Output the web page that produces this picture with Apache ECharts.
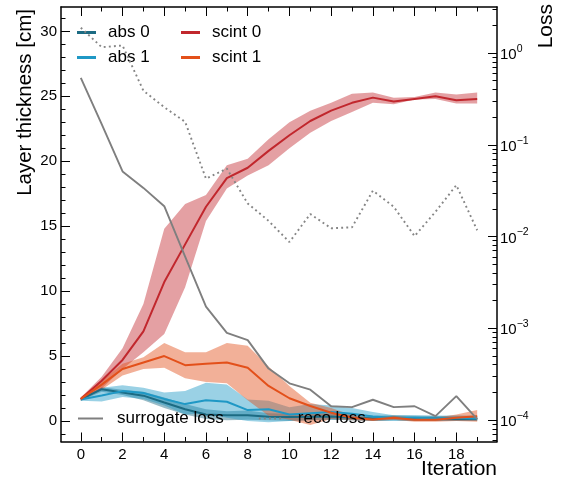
<!DOCTYPE html>
<html>
<head>
<meta charset="utf-8">
<script src="https://cdn.jsdelivr.net/npm/echarts@6/dist/echarts.min.js"></script>
<style>
html,body{margin:0;padding:0;background:#fff;}
#c{width:567px;height:489px;}
</style>
</head>
<body>
<div id="c"></div>
<script>
// ---- data ----
const iterations = [0,1,2,3,4,5,6,7,8,9,10,11,12,13,14,15,16,17,18,19];

const abs0   = [1.66,2.45,2.2,1.95,1.42,0.9,0.5,0.45,0.45,0.33,0.3,0.32,0.35,0.25,0.2,0.25,0.2,0.2,0.15,0.15];
const abs0Lo = [1.55,2.25,2.0,1.6,1.0,0.5,0.15,0.05,0.1,0.05,0.0,0.05,0.1,0.05,0.0,0.05,0.0,0.0,0.0,0.0];
const abs0Hi = [1.75,2.6,2.4,2.25,1.8,1.3,0.9,0.75,0.8,0.6,0.55,0.55,0.55,0.45,0.4,0.45,0.4,0.4,0.35,0.35];

const abs1   = [1.66,1.97,2.3,2.15,1.7,1.3,1.6,1.48,0.84,0.9,0.5,0.6,0.7,0.55,0.35,0.25,0.25,0.2,0.25,0.2];
const abs1Lo = [1.55,1.5,1.85,1.7,1.2,0.5,0.6,0.25,0.0,-0.1,0.0,0.05,0.1,0.05,0.0,0.0,0.0,0.0,0.0,0.0];
const abs1Hi = [1.75,2.55,2.75,2.55,2.2,2.3,2.95,2.8,1.66,1.55,1.05,1.3,1.2,1.0,0.7,0.45,0.45,0.4,0.45,0.4];

const scint0   = [1.7,3.1,4.7,6.9,10.7,13.6,16.5,18.7,19.5,20.8,22.0,23.1,23.9,24.5,24.9,24.6,24.8,25.0,24.7,24.8];
const scint0Lo = [1.6,2.5,4.0,5.3,6.7,10.3,15.4,17.9,18.9,19.7,21.0,22.2,23.1,23.8,24.5,24.4,24.75,24.8,24.45,24.45];
const scint0Hi = [1.8,3.4,5.6,9.0,14.8,16.7,17.4,19.7,20.2,21.7,23.0,23.9,24.5,25.2,25.3,24.9,24.95,25.3,25.15,25.3];

const scint1   = [1.7,2.8,4.0,4.5,5.0,4.3,4.4,4.5,4.1,2.7,1.75,1.15,0.63,0.25,0.12,0.25,0.1,0.1,0.25,0.37];
const scint1Lo = [1.55,2.4,3.5,4.0,4.1,3.3,3.0,2.9,1.6,0.4,0.1,-0.3,0.15,0.05,0.0,0.1,-0.05,-0.05,0.0,-0.05];
const scint1Hi = [1.85,3.1,4.4,4.9,6.0,5.3,5.3,6.0,5.8,4.2,2.7,1.4,1.0,0.45,0.25,0.4,0.25,0.25,0.5,0.85];

const surrogateLoss = [0.537,0.168,0.0513,0.0339,0.0214,0.00603,0.00172,0.000891,0.000741,0.000363,0.000251,0.000214,0.000141,0.000138,0.000166,0.000138,0.000141,0.00011,0.000182,0.000102];
const recoLoss = [1.89,1.16,1.21,0.389,0.257,0.178,0.0427,0.055,0.0229,0.0148,0.0087,0.0176,0.0123,0.0126,0.0316,0.0211,0.0101,0.0186,0.0363,0.0117];

const xMajorTicks = [0,2,4,6,8,10,12,14,16,18];
const xMinorTicks = [1,3,5,7,9,11,13,15,17,19];
const yMajorTicks = [0,5,10,15,20,25,30];
const yMinorTicks = [-1,1,2,3,4,6,7,8,9,11,12,13,14,16,17,18,19,21,22,23,24,26,27,28,29,31];
const lossMajorTicks = [1e-4,1e-3,1e-2,1e-1,1];
const lossMinorTicks = [6e-5,7e-5,8e-5,9e-5,2e-4,3e-4,4e-4,5e-4,6e-4,7e-4,8e-4,9e-4,2e-3,3e-3,4e-3,5e-3,6e-3,7e-3,8e-3,9e-3,2e-2,3e-2,4e-2,5e-2,6e-2,7e-2,8e-2,9e-2,0.2,0.3,0.4,0.5,0.6,0.7,0.8,0.9,2,3];

// ---- styling ----
const FONT = 'Liberation Sans, Arial, Helvetica, sans-serif';
const C_ABS0 = '#1c6b83', C_ABS1 = '#1f98c5', C_SC0 = '#c1272d', C_SC1 = '#e3501a';
const A_ABS0 = 'rgba(28,107,131,0.45)', A_ABS1 = 'rgba(31,152,197,0.45)';
const A_SC0 = 'rgba(193,39,45,0.44)', A_SC1 = 'rgba(227,80,26,0.45)';

function pairs(ys){ return iterations.map((x,i)=>[x, ys[i]]); }
function band(lo, hi, color){
  return {type:'custom', data:pairs(lo), encode:{x:0, y:1}, silent:true, clip:true, animation:false,
    renderItem:function(params, api){
      if (params.dataIndex !== 0) return null;
      const pts = [];
      for (let i = 0; i < iterations.length; i++) pts.push(api.coord([iterations[i], hi[i]]));
      for (let i = iterations.length - 1; i >= 0; i--) pts.push(api.coord([iterations[i], lo[i]]));
      return {type:'polygon', shape:{points:pts}, style:{fill:color, stroke:null}};
    }};
}
function line(name, ys, color){
  return {name:name, type:'line', data:pairs(ys), symbol:'none', itemStyle:{color:color},
          lineStyle:{color:color, width:2}, animation:false};
}

const lineBlack = {show:true, onZero:false, lineStyle:{color:'#000', width:1.5}};
const noLine = {show:false, onZero:false};
function xAxisDef(pos, ticks, len, labels, showLine){
  return {type:'value', position:pos, min:-0.95, max:19.95, gridIndex:0,
    axisLine: showLine ? lineBlack : noLine,
    axisTick:{show:true, inside:true, length:len, customValues:ticks, lineStyle:{color:'#000', width:1}},
    axisLabel: labels ? {show:true, customValues:labels, fontSize:15, color:'#000', fontFamily:FONT, margin:6} : {show:false},
    splitLine:{show:false}};
}
function yAxisDef(pos, ticks, len, labels, showLine){
  return {type:'value', position:pos, min:-1.58, max:31.88, gridIndex:0,
    axisLine: showLine ? lineBlack : noLine,
    axisTick:{show:true, inside:true, length:len, customValues:ticks, lineStyle:{color:'#000', width:1}},
    axisLabel: labels ? {show:true, customValues:labels, fontSize:15, color:'#000', fontFamily:FONT, margin:4} : {show:false},
    splitLine:{show:false}};
}
function logAxisDef(ticks, len, labels, showLine){
  return {type:'log', logBase:10, position:'right', min:5.82e-5, max:3.18, gridIndex:0,
    axisLine: showLine ? lineBlack : noLine,
    axisTick:{show:true, inside:true, length:len, customValues:ticks, lineStyle:{color:'#000', width:1}},
    axisLabel: labels ? {show:true, customValues:labels, margin:3,
      formatter:function(v){ const e=Math.round(Math.log10(v)); return '{b|10}{s|'+(e<0?'\u2212'+(-e):e)+'}'; },
      rich:{b:{fontSize:15, color:'#000', fontFamily:FONT, padding:[4,0,0,0]},
            s:{fontSize:10.5, color:'#000', fontFamily:FONT, padding:[0,0,8,0]}}} : {show:false},
    splitLine:{show:false}};
}

const series = [
  band(abs0Lo, abs0Hi, A_ABS0), line('abs 0', abs0, C_ABS0),
  band(abs1Lo, abs1Hi, A_ABS1), line('abs 1', abs1, C_ABS1),
  band(scint0Lo, scint0Hi, A_SC0), line('scint 0', scint0, C_SC0),
  band(scint1Lo, scint1Hi, A_SC1), line('scint 1', scint1, C_SC1),
  {name:'surrogate loss', type:'line', yAxisIndex:2, data:pairs(surrogateLoss), symbol:'none',
   itemStyle:{color:'#7f7f7f'}, lineStyle:{color:'#7f7f7f', width:1.9}, animation:false, z:5},
  {name:'reco loss', type:'line', yAxisIndex:2, data:pairs(recoLoss), symbol:'none',
   itemStyle:{color:'#7f7f7f'}, lineStyle:{color:'#858585', width:1.9, type:[1.9,3.2], cap:'butt'}, animation:false, z:5}
];

const legendText = {fontSize:17, color:'#000', fontFamily:FONT, padding:[0,0,0,7]};
const option = {
  animation:false,
  backgroundColor:'#fff',
  grid:{left:61, right:70, top:7, bottom:47.5, containLabel:false},
  xAxis:[
    xAxisDef('bottom', xMajorTicks, 9, xMajorTicks, true),
    xAxisDef('top', xMajorTicks, 9, null, true),
    xAxisDef('bottom', xMinorTicks, 4.5, null, false),
    xAxisDef('top', xMinorTicks, 4.5, null, false)
  ],
  yAxis:[
    yAxisDef('left', yMajorTicks, 9, yMajorTicks, true),
    yAxisDef('left', yMinorTicks, 4.5, null, false),
    logAxisDef(lossMajorTicks, 9, lossMajorTicks, true),
    logAxisDef(lossMinorTicks, 4.5, null, false)
  ],
  legend:[
    {data:['abs 0','abs 1'], orient:'vertical', left:72, top:19, itemGap:8, icon:'rect', itemWidth:19, itemHeight:3,
     textStyle:legendText, selectedMode:false},
    {data:['scint 0','scint 1'], orient:'vertical', left:176, top:19, itemGap:8, icon:'rect', itemWidth:19, itemHeight:3,
     textStyle:legendText, selectedMode:false},
    {data:['surrogate loss','reco loss'], orient:'horizontal', left:72, top:405, itemGap:34, itemWidth:25, itemHeight:14,
     itemStyle:{opacity:0},
     textStyle:{fontSize:17, color:'#000', fontFamily:FONT, padding:[0,0,0,9]}, selectedMode:false}
  ],
  graphic:[
    {type:'text', x:25, y:9, rotation:Math.PI/2,
     style:{text:'Layer thickness [cm]', fontSize:20.5, fontFamily:FONT, fill:'#000', align:'right', verticalAlign:'middle'}},
    {type:'text', x:546, y:4, rotation:Math.PI/2,
     style:{text:'Loss', fontSize:21, fontFamily:FONT, fill:'#000', align:'right', verticalAlign:'middle'}},
    {type:'text', x:497, y:469,
     style:{text:'Iteration', fontSize:21, fontFamily:FONT, fill:'#000', align:'right', verticalAlign:'middle'}}
  ],
  series:series
};
const chart = echarts.init(document.getElementById('c'), null, {renderer:'canvas'});
chart.setOption(option);
</script>
</body>
</html>
